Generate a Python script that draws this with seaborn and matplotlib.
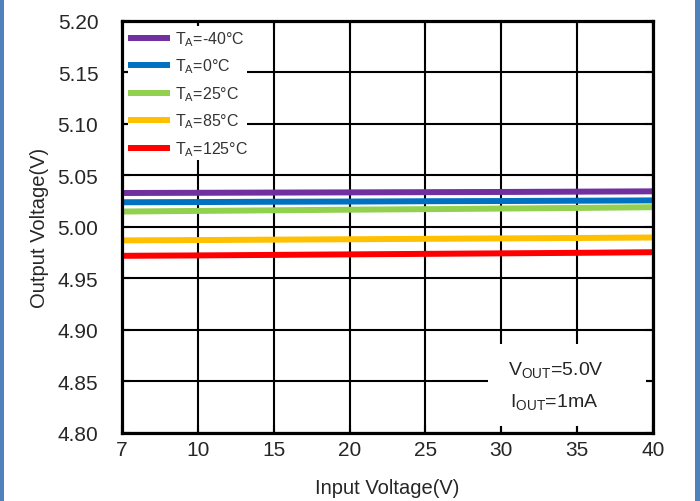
import matplotlib
matplotlib.use("Agg")
import matplotlib.pyplot as plt
from matplotlib.patches import Rectangle
from matplotlib.lines import Line2D
import seaborn as sns
import pandas as pd

# Input voltage sweep (V) and output voltage (V) at each ambient temperature
vin = [7, 10, 15, 20, 25, 30, 35, 40]
vout_m40 = [5.0330, 5.0332, 5.0334, 5.0336, 5.0338, 5.0340, 5.0343, 5.0346]
vout_0 = [5.0240, 5.0242, 5.0245, 5.0247, 5.0250, 5.0252, 5.0255, 5.0258]
vout_25 = [5.0150, 5.0156, 5.0162, 5.0168, 5.0173, 5.0179, 5.0185, 5.0192]
vout_85 = [4.9870, 4.9873, 4.9877, 4.9881, 4.9885, 4.9889, 4.9893, 4.9898]
vout_125 = [4.9720, 4.9724, 4.9729, 4.9734, 4.9739, 4.9744, 4.9749, 4.9755]

series_labels = [r"T$_{A}$=-40°C", r"T$_{A}$=0°C", r"T$_{A}$=25°C",
                 r"T$_{A}$=85°C", r"T$_{A}$=125°C"]
series_values = [vout_m40, vout_0, vout_25, vout_85, vout_125]
series_colors = ["#7030A0", "#0070C0", "#92D050", "#FFC000", "#FF0000"]
yticks = [4.80, 4.85, 4.90, 4.95, 5.00, 5.05, 5.10, 5.15, 5.20]

sns.set_style("white")
plt.rcParams["font.family"] = ["Liberation Sans", "DejaVu Sans"]
plt.rcParams["mathtext.default"] = "regular"

rows = []
for label, vals in zip(series_labels, series_values):
    for i, v in enumerate(vals):
        rows.append({"pos": i, "vout": v, "temp": label})
df = pd.DataFrame(rows)

fig = plt.figure(figsize=(7.0, 5.02), dpi=100)
ax = fig.add_axes([0.1743, 0.1355, 0.7586, 0.8207])

sns.lineplot(data=df, x="pos", y="vout", hue="temp", hue_order=series_labels,
             palette=series_colors, linewidth=4.3, ax=ax, legend=False,
             zorder=3)
for ln in ax.lines:
    ln.set_solid_capstyle("butt")

ax.set_xlim(0, len(vin) - 1)
ax.set_ylim(4.80, 5.20)
ax.set_xticks(range(len(vin)))
ax.set_xticklabels([str(v) for v in vin])
ax.set_yticks(yticks)
ax.set_yticklabels([f"{t:.2f}" for t in yticks])

ax.grid(True, color="black", linewidth=1.5)
ax.tick_params(axis="both", direction="in", length=6, width=1.5,
               color="black", labelsize=15, top=True, right=True,
               bottom=True, left=True)
ax.tick_params(axis="y", pad=17)
ax.tick_params(axis="x", pad=5)
for s in ax.spines.values():
    s.set_visible(True)
    s.set_color("black")
    s.set_linewidth(2.3)
    s.set_zorder(5)

ax.set_xlabel("Input Voltage(V)", fontsize=14.5, labelpad=14)
ax.set_ylabel("Output Voltage(V)", fontsize=14.5, labelpad=6)

# white panels behind the legend and the test-condition note
ax.add_patch(Rectangle((0.0113, 0.6626), 0.2241, 0.3253,
                       transform=ax.transAxes, facecolor="white",
                       edgecolor="none", zorder=1.8))
ax.add_patch(Rectangle((0.69, 0.017), 0.297, 0.20,
                       transform=ax.transAxes, facecolor="white",
                       edgecolor="none", zorder=1.8))

handles = [Line2D([0], [0], color=c, linewidth=4.3, solid_capstyle="butt")
           for c in series_colors]
leg = ax.legend(handles, series_labels, loc="upper left",
                bbox_to_anchor=(0.012, 0.98), frameon=False,
                fontsize=11.5, handlelength=2.6, handletextpad=0.3,
                labelspacing=0.55, borderaxespad=0, borderpad=0)
for t in leg.get_texts():
    t.set_color("#333333")

ax.text(0.727, 0.155, r"V$_{OUT}$=5.0V", transform=ax.transAxes,
        fontsize=14, va="center", ha="left", zorder=4)
ax.text(0.731, 0.078, r"I$_{OUT}$=1mA", transform=ax.transAxes,
        fontsize=14, va="center", ha="left", zorder=4)

# blue frame strips at the figure edges
fig.patches.append(Rectangle((0, 0), 4 / 700, 1, transform=fig.transFigure,
                             facecolor="#4F81BD", edgecolor="none"))
fig.patches.append(Rectangle((695 / 700, 0), 5 / 700, 1,
                             transform=fig.transFigure,
                             facecolor="#4F81BD", edgecolor="none"))

fig.savefig("out.png", dpi=100)
